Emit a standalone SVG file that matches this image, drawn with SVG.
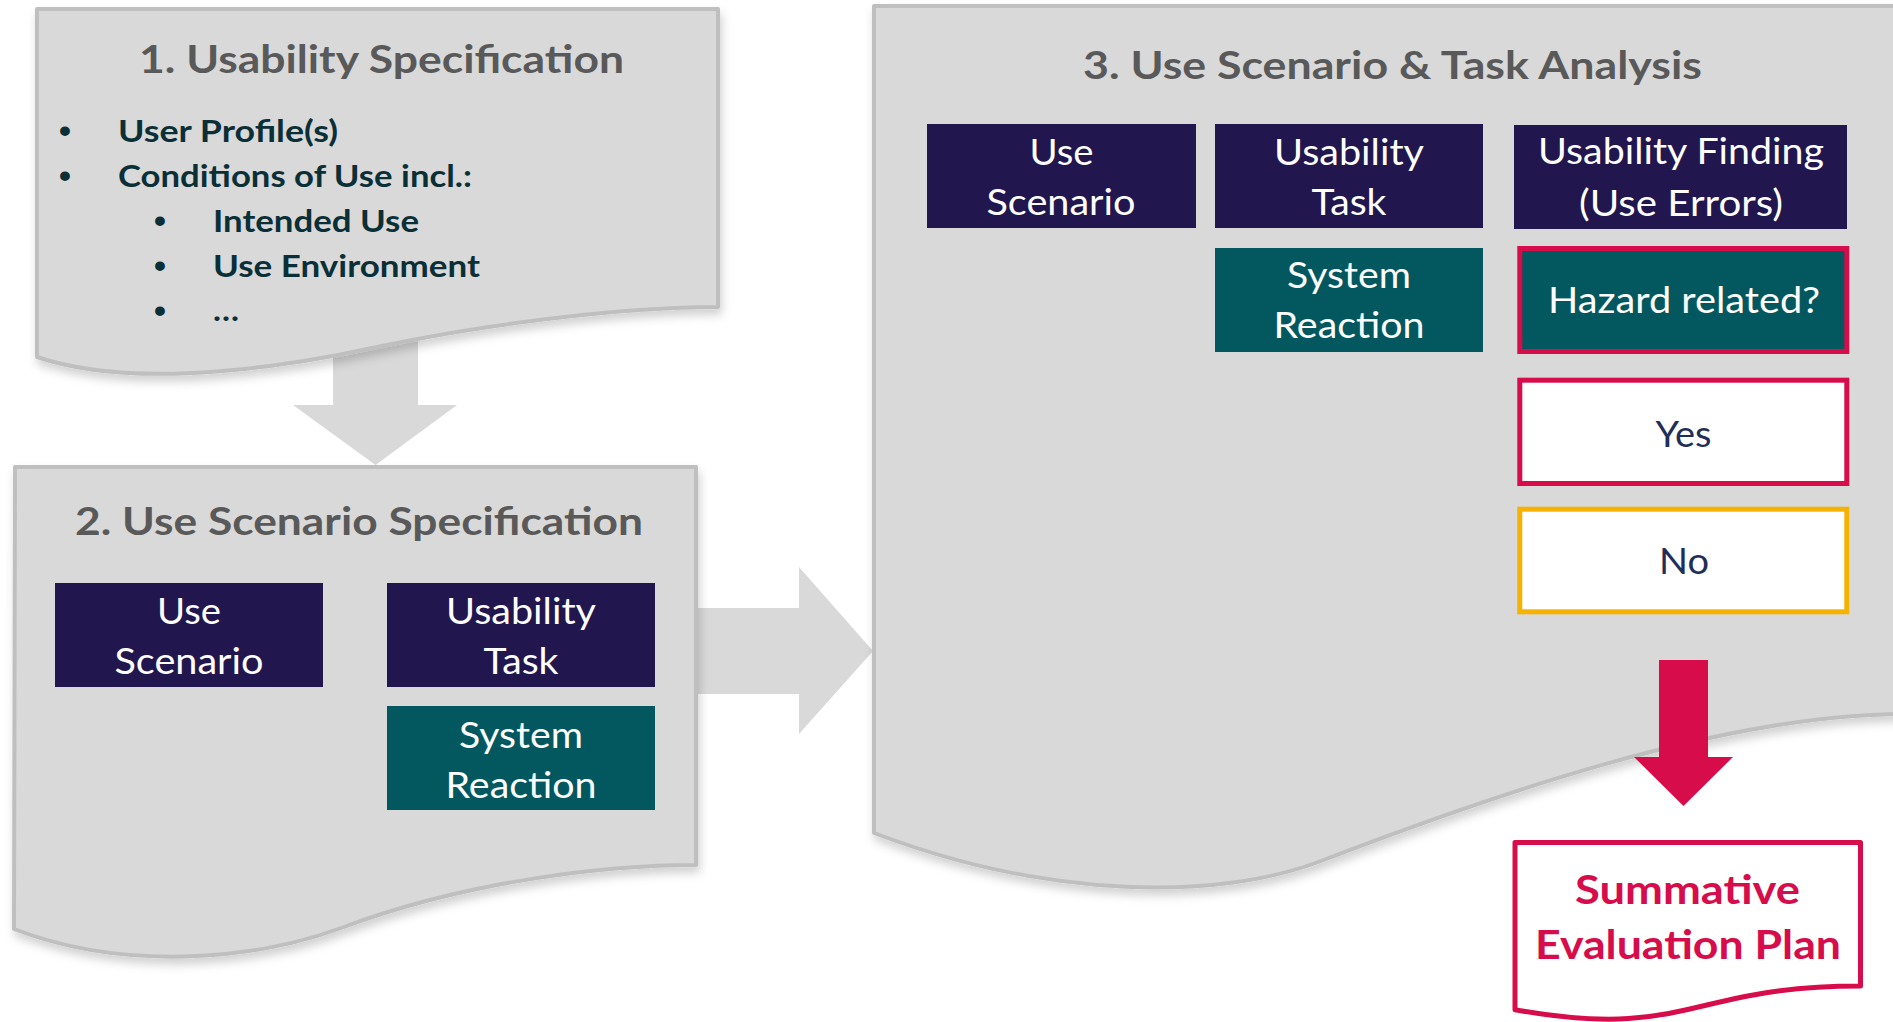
<svg xmlns="http://www.w3.org/2000/svg" width="1893" height="1022" viewBox="0 0 1893 1022">
<defs>
<filter id="sh" x="-5%" y="-5%" width="115%" height="120%">
<feDropShadow dx="2" dy="6" stdDeviation="5" flood-color="#000" flood-opacity="0.18"/>
</filter>
<style>
.doc{fill:#D9D9D9;stroke:#BFBFBF;stroke-width:4;stroke-linejoin:round}
.garrow{fill:#D9D9D9}
.title{font-family:Lato,"Open Sans",sans-serif;font-weight:bold;fill:#595959;font-size:39px}
.bul{font-family:Lato,"Open Sans",sans-serif;font-weight:bold;fill:#0B2F37;font-size:30px}
.dot{font-family:"Liberation Sans",Arial,sans-serif;font-weight:bold;fill:#0B2F37;font-size:34px;text-anchor:middle}
.navy{fill:#21164E}
.teal{fill:#03585F}
.bt{font-family:Lato,"Open Sans",sans-serif;fill:#FFFFFF;font-size:36px;text-anchor:middle}
.dt{font-family:Lato,"Open Sans",sans-serif;fill:#1F2F57;font-size:36px;text-anchor:middle}
.red{stroke:#D60C4B;stroke-width:5}
.gold{stroke:#F5B200;stroke-width:5}
.st{font-family:Lato,"Open Sans",sans-serif;font-weight:bold;fill:#D60C4B;font-size:41px;text-anchor:middle}
</style>
</defs>

<g id="connectors">
<polygon class="garrow" points="333,330 418,330 418,405 457,405 375.5,465 293,405 333,405"/>
<polygon class="garrow" points="690,608 799,608 799,567 873,651 799,734 799,694 690,694"/>
</g>

<g id="doc1">
<path class="doc" filter="url(#sh)" d="M37,9 H718 V307 C620,307 480,325 377,347 C300,364 140,392 37,357 Z"/>
<text class="title" x="139" y="73" textLength="485" lengthAdjust="spacingAndGlyphs">1. Usability Specification</text>
<text class="dot" x="65" y="142">•</text>
<text class="dot" x="65" y="187">•</text>
<text class="dot" x="160" y="232">•</text>
<text class="dot" x="160" y="277">•</text>
<text class="dot" x="160" y="322">•</text>
<text class="bul" x="118" y="142" textLength="220" lengthAdjust="spacingAndGlyphs">User Profile(s)</text>
<text class="bul" x="118" y="187" textLength="354" lengthAdjust="spacingAndGlyphs">Conditions of Use incl.:</text>
<text class="bul" x="213" y="232" textLength="206" lengthAdjust="spacingAndGlyphs">Intended Use</text>
<text class="bul" x="213" y="277" textLength="267" lengthAdjust="spacingAndGlyphs">Use Environment</text>
<text class="bul" x="213" y="321" textLength="26" lengthAdjust="spacingAndGlyphs">…</text>
</g>

<g id="doc2">
<path class="doc" filter="url(#sh)" d="M15,467 H696 V865 C610,865 470,880 344,927 C250,962 120,970 14,929 Z"/>
<text class="title" x="75" y="535" textLength="568" lengthAdjust="spacingAndGlyphs">2. Use Scenario Specification</text>
</g>

<g id="doc2-use-scenario">
<rect class="navy" x="55" y="583" width="268" height="104"/>
<text class="bt" x="189" y="624" textLength="64" lengthAdjust="spacingAndGlyphs">Use</text>
<text class="bt" x="189" y="674" textLength="149" lengthAdjust="spacingAndGlyphs">Scenario</text>
</g>
<g id="doc2-usability-task">
<rect class="navy" x="387" y="583" width="268" height="104"/>
<text class="bt" x="521" y="624" textLength="150" lengthAdjust="spacingAndGlyphs">Usability</text>
<text class="bt" x="521" y="674" textLength="75" lengthAdjust="spacingAndGlyphs">Task</text>
</g>
<g id="doc2-system-reaction">
<rect class="teal" x="387" y="706" width="268" height="104"/>
<text class="bt" x="521" y="748" textLength="124" lengthAdjust="spacingAndGlyphs">System</text>
<text class="bt" x="521" y="798" textLength="151" lengthAdjust="spacingAndGlyphs">Reaction</text>
</g>

<g id="doc3">
<path class="doc" filter="url(#sh)" d="M874,6 H1905 V714 C1720,714 1480,800 1321,861 C1220,900 1050,900 874,833 Z"/>
<text class="title" x="1083" y="79" font-size="40" textLength="619" lengthAdjust="spacingAndGlyphs">3. Use Scenario &amp; Task Analysis</text>
</g>

<g id="doc3-use-scenario">
<rect class="navy" x="927" y="124" width="269" height="104"/>
<text class="bt" x="1061.5" y="165" textLength="64" lengthAdjust="spacingAndGlyphs">Use</text>
<text class="bt" x="1061" y="215" textLength="149" lengthAdjust="spacingAndGlyphs">Scenario</text>
</g>
<g id="doc3-usability-task">
<rect class="navy" x="1215" y="124" width="268" height="104"/>
<text class="bt" x="1349" y="165" textLength="150" lengthAdjust="spacingAndGlyphs">Usability</text>
<text class="bt" x="1349" y="215" textLength="75" lengthAdjust="spacingAndGlyphs">Task</text>
</g>
<g id="doc3-system-reaction">
<rect class="teal" x="1215" y="248" width="268" height="104"/>
<text class="bt" x="1349" y="288" textLength="124" lengthAdjust="spacingAndGlyphs">System</text>
<text class="bt" x="1349" y="338" textLength="151" lengthAdjust="spacingAndGlyphs">Reaction</text>
</g>
<g id="usability-finding">
<rect class="navy" x="1514" y="125" width="333" height="104"/>
<text class="bt" x="1681" y="164" textLength="286" lengthAdjust="spacingAndGlyphs">Usability Finding</text>
<text class="bt" x="1681" y="216" textLength="204" lengthAdjust="spacingAndGlyphs">(Use Errors)</text>
</g>
<g id="hazard">
<rect class="teal red" x="1519.8" y="248.5" width="327" height="103"/>
<text class="bt" x="1684" y="313" textLength="272" lengthAdjust="spacingAndGlyphs">Hazard related?</text>
</g>
<g id="yes">
<rect class="red" fill="#FFFFFF" x="1519.8" y="380.2" width="327" height="103.3"/>
<text class="dt" x="1683.5" y="447" textLength="56" lengthAdjust="spacingAndGlyphs">Yes</text>
</g>
<g id="no">
<rect class="gold" fill="#FFFFFF" x="1519.8" y="509.2" width="327" height="102.6"/>
<text class="dt" x="1684" y="574" textLength="50" lengthAdjust="spacingAndGlyphs">No</text>
</g>

<g id="red-arrow">
<polygon fill="#D60C4B" points="1659,660 1708,660 1708,757 1733,757 1683.5,806 1634,757 1659,757"/>
</g>

<g id="summative">
<path fill="#FFFFFF" stroke="#D60C4B" stroke-width="5" stroke-linejoin="round" d="M1515,842.5 H1860.5 V986 C1687.75,986 1687.75,1040.7 1515,1009.7 Z"/>
<text class="st" x="1687.5" y="904" font-size="42" textLength="225" lengthAdjust="spacingAndGlyphs">Summative</text>
<text class="st" x="1688" y="959" textLength="306" lengthAdjust="spacingAndGlyphs">Evaluation Plan</text>
</g>
</svg>
